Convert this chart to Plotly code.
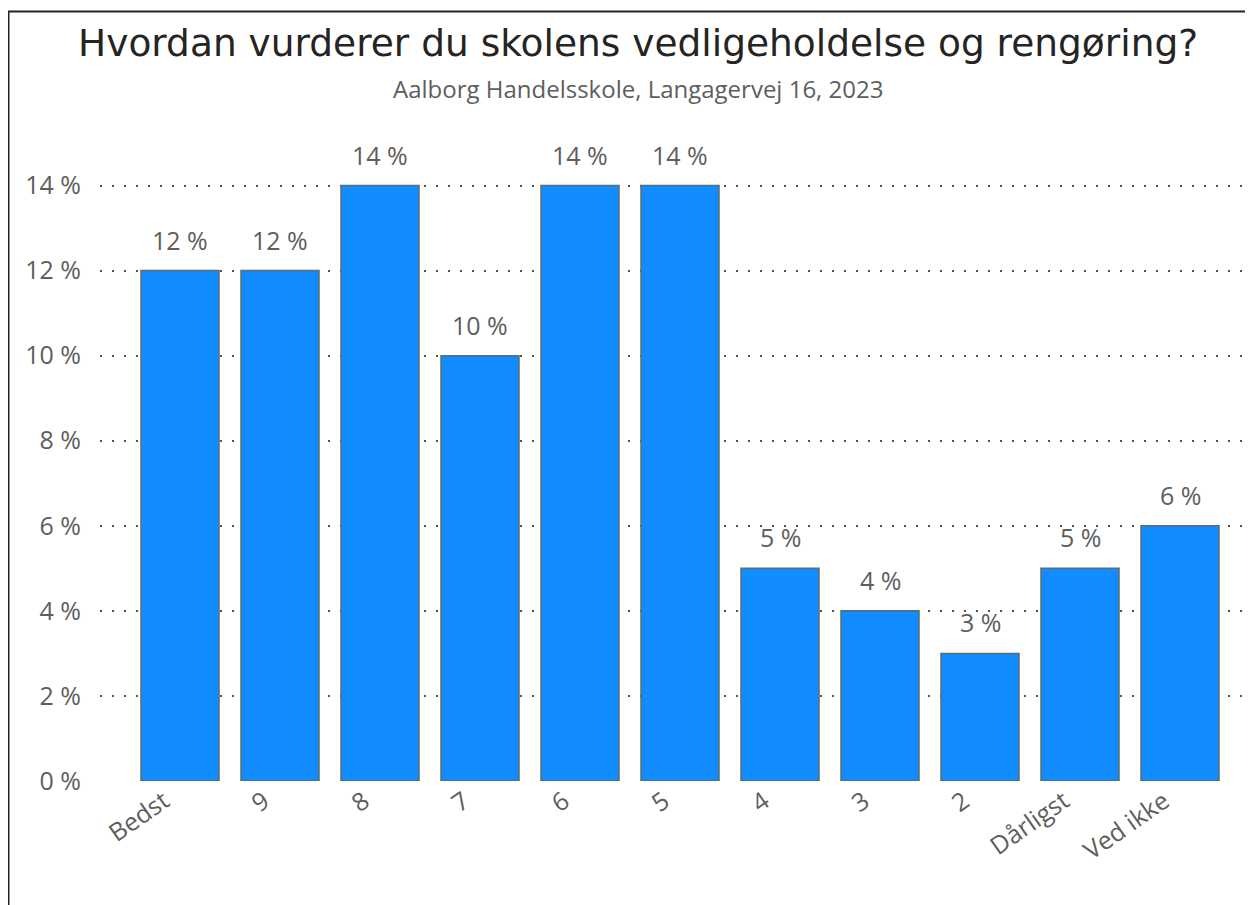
import plotly.graph_objects as go

categories = ["Bedst", "9", "8", "7", "6", "5", "4", "3", "2", "Dårligst", "Ved ikke"]
values = [12, 12, 14, 10, 14, 14, 5, 4, 3, 5, 6]
y_ticks = [0, 2, 4, 6, 8, 10, 12, 14]
y_tick_labels = [f"{v} %" for v in y_ticks]
value_labels = [f"{v} %" for v in values]

title_text = "Hvordan vurderer du skolens vedligeholdelse og rengøring?"
subtitle_text = "Aalborg Handelsskole, Langagervej 16, 2023"

W, H = 1253, 905
L, R, T, B = 92, 0, 134.5, 132
PW = W - L - R
PH = H - T - B


def px(fx):
    return (fx - L) / PW


def py(fy):
    return (H - B - fy) / PH


TXT = "#605E5C"

fig = go.Figure()
fig.add_trace(go.Bar(
    x=list(range(len(categories))),
    y=values,
    width=0.78,
    marker=dict(color="#118DFF", line=dict(color="#5F6B6D", width=1.5)),
    hoverinfo="skip",
))

annotations = [
    dict(x=i, y=v, xref="x", yref="y", text=lbl, showarrow=False,
         xanchor="center", yanchor="bottom", yshift=12,
         font=dict(family="Open Sans", size=25, color=TXT))
    for i, (v, lbl) in enumerate(zip(values, value_labels))
]
annotations += [
    dict(text=title_text, xref="paper", yref="paper",
         x=px(630), y=py(34), xanchor="center", yanchor="middle",
         showarrow=False,
         font=dict(family="DejaVu Sans", size=37.5, color="#252423")),
    dict(text=subtitle_text, xref="paper", yref="paper",
         x=px(630), y=py(80), xanchor="center", yanchor="middle",
         showarrow=False,
         font=dict(family="Open Sans", size=24, color=TXT)),
]

fig.update_layout(
    width=W, height=H,
    margin=dict(l=L, r=R, t=T, b=B),
    paper_bgcolor="white",
    plot_bgcolor="white",
    showlegend=False,
    xaxis=dict(
        range=[-0.8, 10.81],
        tickvals=list(range(len(categories))),
        ticktext=categories,
        tickangle=-35,
        tickfont=dict(family="Open Sans", size=25, color=TXT),
        ticklabelshift=-16,
        showgrid=False, zeroline=False, showline=False, ticks="",
    ),
    yaxis=dict(
        range=[0, 15],
        tickvals=y_ticks,
        ticktext=y_tick_labels,
        tickfont=dict(family="Open Sans", size=25, color=TXT),
        showgrid=True, gridcolor="#555555", gridwidth=1.5,
        griddash="2px,10px",
        zeroline=False, showline=False, ticks="",
        ticklabelstandoff=18,
    ),
    annotations=annotations,
    shapes=[
        dict(type="rect", xref="paper", yref="paper",
             x0=px(0.5), x1=1.2,
             y0=-0.5, y1=py(3),
             line=dict(color="#222222", width=2), fillcolor="rgba(0,0,0,0)",
             layer="above"),
    ],
)

fig.write_html("out.html")
